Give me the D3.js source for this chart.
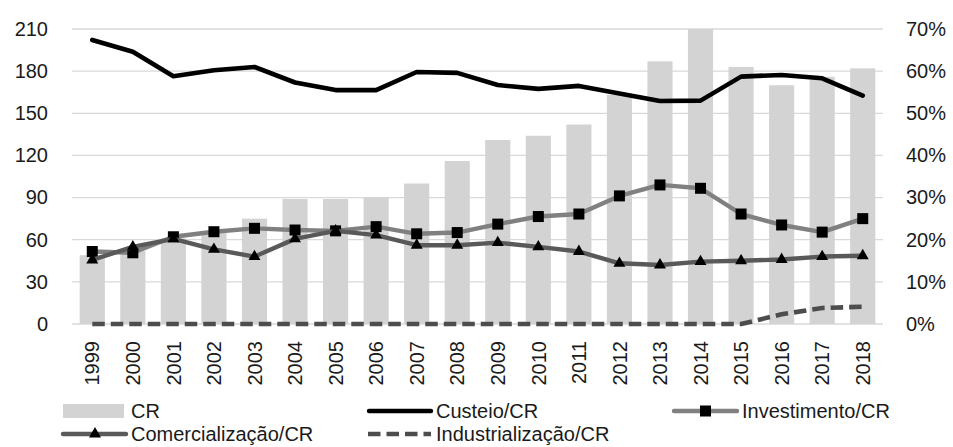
<!DOCTYPE html>
<html>
<head>
<meta charset="utf-8">
<script src="https://cdn.jsdelivr.net/npm/d3@7"></script>
<style>
  html, body { margin: 0; padding: 0; background: #fff; }
  svg { display: block; font-family: "Liberation Sans", Arial, sans-serif; }
</style>
</head>
<body>
<svg id="chart" width="953" height="447"></svg>
<script>
// Crédito rural (CR) and the share of each purpose, 1999–2018
const years = ["1999","2000","2001","2002","2003","2004","2005","2006","2007","2008",
               "2009","2010","2011","2012","2013","2014","2015","2016","2017","2018"];
const cr = [49, 52, 61, 65, 75, 89, 89, 90, 100, 116,
            131, 134, 142, 163, 187, 210, 183, 170, 176, 182];
const custeio = [67.4, 64.6, 58.8, 60.2, 61.0, 57.3, 55.5, 55.5, 59.8, 59.6,
                 56.7, 55.8, 56.5, 54.7, 52.9, 53.0, 58.7, 59.1, 58.3, 54.2];
const investimento = [17.2, 16.9, 20.7, 21.9, 22.7, 22.3, 22.1, 23.1, 21.4, 21.7,
                      23.7, 25.5, 26.1, 30.4, 33.0, 32.2, 26.1, 23.5, 21.8, 25.0];
const comercializacao = [15.2, 18.3, 20.2, 17.7, 16.0, 20.2, 22.1, 21.1, 18.7, 18.7,
                         19.3, 18.3, 17.2, 14.4, 14.0, 14.8, 15.0, 15.3, 16.0, 16.2];
const industrializacao = [0, 0, 0, 0, 0, 0, 0, 0, 0, 0,
                          0, 0, 0, 0, 0, 0, 0, 2.3, 3.8, 4.1];
const leftTicks = [0, 30, 60, 90, 120, 150, 180, 210];
const rightTicks = [0, 10, 20, 30, 40, 50, 60, 70];

const svg = d3.select("#chart");
const plot = { left: 72, right: 883, top: 29, bottom: 324 };
const fontSize = 20;
const fontFamily = "Liberation Sans";
const textColor = "#1a1a1a";

const x = d3.scaleBand().domain(years).range([plot.left, plot.right])
  .paddingInner(0.38).paddingOuter(0.19);
const yL = d3.scaleLinear().domain([0, 210]).range([plot.bottom, plot.top]);
const yR = d3.scaleLinear().domain([0, 70]).range([plot.bottom, plot.top]);
const cx = d => x(d) + x.bandwidth() / 2;

// gridlines
svg.append("g").selectAll("line").data(leftTicks).join("line")
  .attr("x1", plot.left).attr("x2", plot.right)
  .attr("y1", d => yL(d)).attr("y2", d => yL(d))
  .attr("stroke", "#d9d9d9").attr("stroke-width", 1.3);

function styleText(sel) {
  sel.attr("font-size", fontSize).attr("font-family", fontFamily).attr("fill", textColor);
}

// left axis
const axL = svg.append("g").attr("transform", `translate(${plot.left},0)`)
  .call(d3.axisLeft(yL).tickValues(leftTicks).tickSize(0).tickPadding(24));
axL.select(".domain").remove();
styleText(axL.selectAll("text"));

// right axis
const axR = svg.append("g").attr("transform", `translate(${plot.right},0)`)
  .call(d3.axisRight(yR).tickValues(rightTicks).tickSize(0).tickPadding(23)
    .tickFormat(d => d + "%"));
axR.select(".domain").remove();
styleText(axR.selectAll("text"));

// bars
svg.append("g").selectAll("rect").data(years).join("rect")
  .attr("x", d => x(d)).attr("width", x.bandwidth())
  .attr("y", (d, i) => yL(cr[i])).attr("height", (d, i) => yL(0) - yL(cr[i]))
  .attr("fill", "#d3d3d3");

// year labels
const axX = svg.append("g").attr("transform", `translate(0,${plot.bottom})`)
  .call(d3.axisBottom(x).tickSize(0).tickPadding(0));
axX.select(".domain").remove();
styleText(axX.selectAll("text"));
axX.selectAll("text")
  .attr("transform", "rotate(-90)")
  .attr("text-anchor", "end")
  .attr("x", -17).attr("y", 0).attr("dy", "0.36em");

const line = d3.line().x((d, i) => cx(years[i])).y(d => yR(d));

function drawLine(values, color, width, dash) {
  svg.append("path").datum(values)
    .attr("d", line)
    .attr("fill", "none").attr("stroke", color).attr("stroke-width", width)
    .attr("stroke-linejoin", "round")
    .attr("stroke-linecap", dash ? "butt" : "round")
    .attr("stroke-dasharray", dash || null);
}

drawLine(custeio, "#000000", 4.6);
drawLine(investimento, "#808080", 4.4);
svg.append("g").selectAll("rect").data(investimento).join("rect")
  .attr("x", (d, i) => cx(years[i]) - 5.5).attr("y", d => yR(d) - 5.5)
  .attr("width", 11).attr("height", 11).attr("fill", "#000");
drawLine(comercializacao, "#595959", 4.4);
const tri = d3.symbol().type(d3.symbolTriangle).size(62);
svg.append("g").selectAll("path").data(comercializacao).join("path")
  .attr("transform", (d, i) => `translate(${cx(years[i])},${yR(d)})`)
  .attr("d", tri).attr("fill", "#000");
drawLine(industrializacao, "#4d4d4d", 4.6, "12.5 6");

// legend
const legend = svg.append("g");
const row1 = 411, row2 = 434;

function legendText(xp, yp, label) {
  styleText(legend.append("text").attr("x", xp).attr("y", yp).attr("dy", "0.36em").text(label));
}
function legendLine(x1, x2, yp, color, dash) {
  legend.append("line").attr("x1", x1).attr("x2", x2).attr("y1", yp).attr("y2", yp)
    .attr("stroke", color).attr("stroke-width", 4.4)
    .attr("stroke-linecap", dash ? "butt" : "round")
    .attr("stroke-dasharray", dash || null);
}

legend.append("rect").attr("x", 63).attr("y", row1 - 7).attr("width", 61).attr("height", 14)
  .attr("fill", "#d3d3d3");
legendText(131, row1, "CR");

legendLine(369, 431, row1, "#000");
legendText(436, row1, "Custeio/CR");

legendLine(674, 737, row1, "#808080");
legend.append("rect").attr("x", 700).attr("y", row1 - 5.5).attr("width", 11).attr("height", 11)
  .attr("fill", "#000");
legendText(742, row1, "Investimento/CR");

legendLine(63, 126, row2, "#595959");
legend.append("path").attr("transform", `translate(95,${row2})`).attr("d", tri).attr("fill", "#000");
legendText(131, row2, "Comercialização/CR");

legendLine(368, 431, row2, "#4d4d4d", "12.5 6");
legendText(436, row2, "Industrialização/CR");
</script>
</body>
</html>
